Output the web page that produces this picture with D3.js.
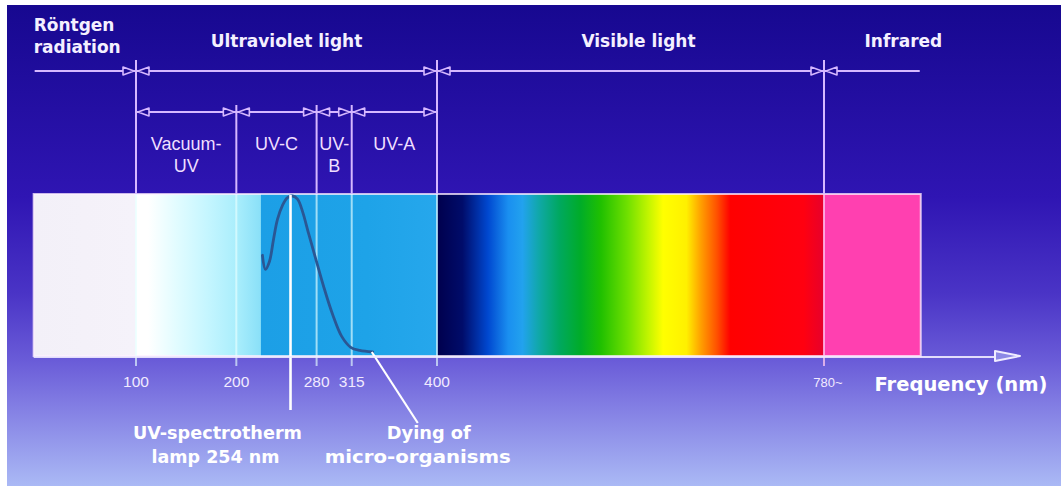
<!DOCTYPE html>
<html>
<head>
<meta charset="utf-8">
<script src="https://cdn.jsdelivr.net/npm/d3@7"></script>
<style>
  html, body { margin: 0; padding: 0; background: #ffffff; }
  svg { display: block; }
</style>
</head>
<body>
<svg id="chart" width="1061" height="489"></svg>
<script>
// ---------- DATA ----------
const headerLabels = ["Röntgen radiation", "Ultraviolet light", "Visible light", "Infrared"];
const headerRanges = [[-2, 100], [100, 400], [400, 780], [780, 875]];

const uvLabels = ["Vacuum-|UV", "UV-C", "UV-|B", "UV-A"];
const uvRanges = [[100, 200], [200, 280], [280, 315], [315, 400]];

const majorBounds = [100, 400, 780];          // region borders (nm)
const uvBounds = [100, 200, 280, 315, 400];   // UV sub-region borders (nm)

const tickValues = [100, 200, 280, 315, 400, 780];
const tickLabels = ["100", "200", "280", "315", "400", "780~"];

const bandExtent = [-2, 875];                 // nm covered by the spectrum band

// colour of the spectrum band along the wavelength axis
const bandStopNm = [-2, 99, 100, 112, 140, 170, 200, 224, 225, 330, 400, 401, 425, 450, 470, 484, 500, 520, 541, 561, 587, 607, 622, 645, 659, 675, 688, 760, 779, 780, 875];
const bandStopColor = ["#f3f0f8", "#f5f2fa", "#ffffff", "#ffffff", "#e2fcff", "#c6f6ff", "#aaeefc", "#8ae0f8", "#1c9fe6", "#1ea3e8", "#26a7ec", "#00004e", "#000c6a", "#0048d0", "#1a8ff0", "#22a2ee", "#10a8a8", "#00a860", "#00ac28", "#20c000", "#70e000", "#c0f400", "#ffff00", "#fff000", "#ffa000", "#ff5000", "#ff0000", "#ff0010", "#e8002a", "#ff40b0", "#ff40b0"];

// germicidal (dying of micro-organisms) curve, relative effect
const curveNm = [226, 229, 233, 237, 241, 246, 251, 256, 261, 266, 272, 279, 287, 296, 305, 314, 323, 336];
const curveVal = [0.62, 0.53, 0.58, 0.72, 0.85, 0.94, 0.99, 1.0, 0.98, 0.9, 0.76, 0.6, 0.42, 0.24, 0.1, 0.03, 0.01, 0.0];

const lampNm = 254;
const annotations = ["UV-spectrotherm|lamp 254 nm", "Dying of|micro-organisms"];
const axisTitle = "Frequency (nm)";

// ---------- DRAW ----------
const svg = d3.select("#chart");
const defs = svg.append("defs");

const x = d3.scaleLinear().domain([100, 400, 780]).range([136, 437, 824]);
const y = d3.scaleLinear().domain([0, 1]).range([352, 196]);

const bandTop = 194, bandBottom = 356;

// background
const bg = defs.append("linearGradient").attr("id", "bg")
  .attr("x1", 0).attr("y1", 0).attr("x2", 0).attr("y2", 1);
[[0, "#170890"], [0.4, "#2f15b3"], [0.6, "#4a34c6"], [0.74, "#6a5cd8"], [0.84, "#8480e4"], [1, "#aab9f5"]]
  .forEach(([o, c]) => bg.append("stop").attr("offset", o).attr("stop-color", c));
svg.append("rect").attr("x", 7).attr("y", 5).attr("width", 1054).attr("height", 481).attr("fill", "url(#bg)");

// band
const bandGrad = defs.append("linearGradient").attr("id", "band")
  .attr("gradientUnits", "userSpaceOnUse")
  .attr("x1", x(bandExtent[0])).attr("x2", x(bandExtent[1])).attr("y1", 0).attr("y2", 0);
const bx0 = x(bandExtent[0]), bx1 = x(bandExtent[1]);
bandStopNm.forEach((nm, i) => {
  bandGrad.append("stop")
    .attr("offset", (x(nm) - bx0) / (bx1 - bx0))
    .attr("stop-color", bandStopColor[i]);
});
svg.append("rect")
  .attr("x", bx0).attr("y", bandTop).attr("width", bx1 - bx0).attr("height", bandBottom - bandTop)
  .attr("fill", "url(#band)")
  .attr("stroke", "rgba(255,240,255,0.75)").attr("stroke-width", 2);

// vertical boundary lines
const lineCol = "#d6b8ff";
const vlines = svg.append("g");
majorBounds.forEach(b => {
  vlines.append("line").attr("x1", x(b)).attr("x2", x(b)).attr("y1", 60).attr("y2", bandTop)
    .attr("stroke", lineCol).attr("stroke-width", 2);
});
uvBounds.filter(b => !majorBounds.includes(b)).forEach(b => {
  vlines.append("line").attr("x1", x(b)).attr("x2", x(b)).attr("y1", 105).attr("y2", bandTop)
    .attr("stroke", lineCol).attr("stroke-width", 2);
});
tickValues.forEach(b => {
  vlines.append("line").attr("x1", x(b)).attr("x2", x(b)).attr("y1", bandTop).attr("y2", 366)
    .attr("stroke", b === 780 ? "rgba(255,200,240,0.75)" : "rgba(230,255,255,0.65)").attr("stroke-width", 2);
});

// dimension lines with arrowheads
function arrow(g, tip, yy, dir, fill) {
  const L = 11, H = 4;
  g.append("path")
    .attr("d", `M${tip},${yy} L${tip - dir * L},${yy - H} L${tip - dir * L},${yy + H} Z`)
    .attr("fill", fill).attr("stroke", lineCol).attr("stroke-width", 1.6).attr("stroke-linejoin", "round");
}
const dims = svg.append("g");
const topY = 71;
dims.append("line").attr("x1", x(bandExtent[0]) + 1).attr("x2", x(874)).attr("y1", topY).attr("y2", topY)
  .attr("stroke", lineCol).attr("stroke-width", 2);
majorBounds.forEach(b => {
  arrow(dims, x(b) - 2, topY, 1, "#1c0a94");
  arrow(dims, x(b) + 2, topY, -1, "#1c0a94");
});
const uvY = 112;
dims.append("line").attr("x1", x(100)).attr("x2", x(400)).attr("y1", uvY).attr("y2", uvY)
  .attr("stroke", lineCol).attr("stroke-width", 2);
uvBounds.forEach((b, i) => {
  if (i > 0) arrow(dims, x(b) - 2, uvY, 1, "#1e0b98");
  if (i < uvBounds.length - 1) arrow(dims, x(b) + 2, uvY, -1, "#1e0b98");
});

// germicidal curve
const curveData = curveNm.map((d, i) => [d, curveVal[i]]);
svg.append("path")
  .datum(curveData)
  .attr("d", d3.line().x(d => x(d[0])).y(d => y(d[1])).curve(d3.curveCatmullRom.alpha(0.5)))
  .attr("fill", "none").attr("stroke", "#2a5794").attr("stroke-width", 2.8).attr("stroke-linecap", "round");

// lamp pointer line
svg.append("line").attr("x1", x(lampNm)).attr("x2", x(lampNm)).attr("y1", bandTop + 1).attr("y2", 410)
  .attr("stroke", "#ffffff").attr("stroke-width", 2.6);
// dying pointer line
const last = curveData[curveData.length - 1];
svg.append("line").attr("x1", x(last[0]) - 1).attr("y1", y(last[1]))
  .attr("x2", x(last[0]) + 45).attr("y2", 423)
  .attr("stroke", "#ffffff").attr("stroke-width", 2.2);

// axis line + arrow
svg.append("line").attr("x1", bx0).attr("x2", 995).attr("y1", bandBottom + 1).attr("y2", bandBottom + 1)
  .attr("stroke", "rgba(240,235,255,0.9)").attr("stroke-width", 2);
svg.append("path").attr("d", `M1020,${bandBottom} L995,${bandBottom - 5} L995,${bandBottom + 5} Z`)
  .attr("fill", "#8c88e6").attr("stroke", "#f0ecff").attr("stroke-width", 2).attr("stroke-linejoin", "round");

// tick labels
svg.append("g").selectAll("text").data(tickValues).join("text")
  .attr("x", (d, i) => x(d) + (i === tickValues.length - 1 ? 4 : 0))
  .attr("y", 387)
  .attr("text-anchor", "middle")
  .attr("font-family", "Liberation Sans, Arial, sans-serif")
  .attr("font-size", (d, i) => i === tickValues.length - 1 ? 13 : 15.5)
  .attr("fill", "#f1eaff")
  .text((d, i) => tickLabels[i]);

// header labels
const headerFont = "DejaVu Sans, Verdana, sans-serif";
const hdr = svg.append("g").attr("font-family", headerFont).attr("font-weight", "bold")
  .attr("font-size", 17).attr("fill", "#f4f0ff");
headerLabels.forEach((t, i) => {
  const r = headerRanges[i];
  if (i === 0) {
    const words = t.split(" ");
    hdr.append("text").attr("x", x(r[0])).attr("y", 31).text(words[0]);
    hdr.append("text").attr("x", x(r[0])).attr("y", 53).text(words[1]);
  } else {
    const dx = i === 3 ? 31 : (i === 2 ? 8 : 0);
    hdr.append("text").attr("x", (x(r[0]) + x(r[1])) / 2 + dx).attr("y", 47)
      .attr("text-anchor", "middle").text(t);
  }
});

// UV sub labels
const sub = svg.append("g").attr("font-family", "Liberation Sans, Arial, sans-serif")
  .attr("font-size", 18).attr("fill", "#efdfff").attr("text-anchor", "middle");
uvLabels.forEach((t, i) => {
  const cx = (x(uvRanges[i][0]) + x(uvRanges[i][1])) / 2;
  t.split("|").forEach((ln, j) => {
    sub.append("text").attr("x", cx).attr("y", 150 + j * 22).text(ln);
  });
});

// annotations
const ann = svg.append("g").attr("font-family", headerFont).attr("font-weight", "bold")
  .attr("font-size", 17).attr("fill", "#ffffff").attr("text-anchor", "middle");
const annX = [[x(lampNm) - 73, x(lampNm) - 75], [x(last[0]) + 56, x(last[0]) + 45]];
const annLen = [[169, 128], [84, 186]];
annotations.forEach((t, i) => {
  t.split("|").forEach((ln, j) => {
    ann.append("text").attr("x", annX[i][j]).attr("y", 439 + j * 24)
      .attr("textLength", annLen[i][j]).attr("lengthAdjust", "spacingAndGlyphs")
      .text(ln);
  });
});

// axis title
svg.append("text").attr("x", 961).attr("y", 391).attr("text-anchor", "middle")
  .attr("font-family", headerFont).attr("font-weight", "bold").attr("font-size", 19.5)
  .attr("fill", "#ffffff").text(axisTitle);
</script>
</body>
</html>
